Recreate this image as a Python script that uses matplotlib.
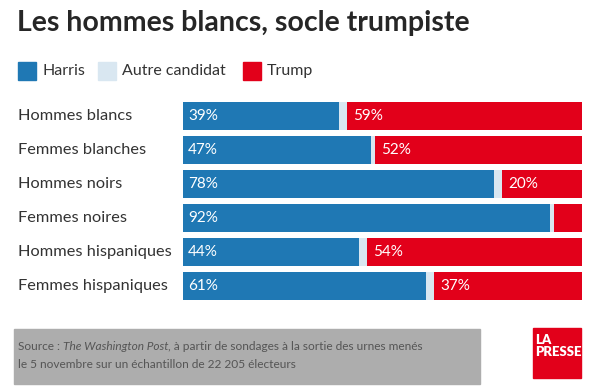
import matplotlib.pyplot as plt
from matplotlib.patches import Rectangle
import numpy as np

groups = ["Hommes blancs", "Femmes blanches", "Hommes noirs",
          "Femmes noires", "Hommes hispaniques", "Femmes hispaniques"]
harris = [39, 47, 78, 92, 44, 61]
autre = [2, 1, 2, 1, 2, 2]
trump = [59, 52, 20, 7, 54, 37]
series = ["Harris", "Autre candidat", "Trump"]
colors = ["#1f78b4", "#d9e7f1", "#e2001a"]

W, H = 595, 389
fig = plt.figure(figsize=(W / 100, H / 100), dpi=100)
plt.rcParams['font.family'] = ['Lato', 'DejaVu Sans']

def fx(px):
    return px / W

def fy(py):
    return 1 - py / H

# title
fig.text(fx(17), fy(23), "Les hommes blancs, socle trumpiste", fontsize=20.5,
         weight='bold', color='#262626', va='center', ha='left')

# legend
lx = [18, 98, 243]
for x, name, c in zip(lx, series, colors):
    fig.patches.append(Rectangle((fx(x), fy(80)), fx(18), 18 / H, color=c,
                                 transform=fig.transFigure, figure=fig))
    fig.text(fx(x + 24), fy(71), name, fontsize=11.5, color='#333333',
             va='center', ha='left')

# bars
ax = fig.add_axes([fx(183), fy(303), fx(399), 204 / H])
y = np.arange(len(groups))
h = np.array(harris)
a = np.array(autre)
t = np.array(trump)
ax.barh(y, h, height=0.83, color=colors[0])
ax.barh(y, a, left=h, height=0.83, color=colors[1])
ax.barh(y, t, left=h + a, height=0.83, color=colors[2])
ax.set_xlim(0, 100)
ax.set_ylim(len(groups) - 0.5, -0.5)
ax.axis('off')
for i in range(len(groups)):
    ax.text(1.3, i, f"{harris[i]}%", color='white', fontsize=11,
            va='center', ha='left')
    if trump[i] >= 10:
        ax.text(harris[i] + autre[i] + 1.6, i, f"{trump[i]}%", color='white',
                fontsize=11, va='center', ha='left')
    fig.text(fx(18), fy(116 + i * 34), groups[i], fontsize=11.8,
             color='#333333', va='center', ha='left')

# source box
fig.patches.append(Rectangle((fx(14), fy(384)), fx(466), 55 / H, color='#adadad',
                             transform=fig.transFigure, figure=fig))
fig.canvas.draw()
r = fig.canvas.get_renderer()
t1 = fig.text(fx(18), fy(346), "Source : ", fontsize=8.6, color='#555555',
              va='center', ha='left')
bb = t1.get_window_extent(r)
t2 = fig.text(bb.x1 / W, fy(346), "The Washington Post", fontsize=8.6,
              style='italic', color='#555555', va='center', ha='left')
bb = t2.get_window_extent(r)
fig.text(bb.x1 / W, fy(346),
         ", à partir de sondages à la sortie des urnes menés", fontsize=8.6,
         color='#555555', va='center', ha='left')
fig.text(fx(18), fy(365), "le 5 novembre sur un échantillon de 22 205 électeurs",
         fontsize=8.6, color='#555555', va='center', ha='left')

# logo
fig.patches.append(Rectangle((fx(533), fy(378)), fx(48), 50 / H, color='#e2001a',
                             transform=fig.transFigure, figure=fig))
fig.text(fx(535), fy(340), "LA", fontsize=9.5, weight='heavy', color='white',
         va='center', ha='left')
fig.text(fx(535), fy(352), "PRESSE", fontsize=9.5, weight='heavy', color='white',
         va='center', ha='left', stretch='condensed')

fig.savefig("out.png", dpi=100)
